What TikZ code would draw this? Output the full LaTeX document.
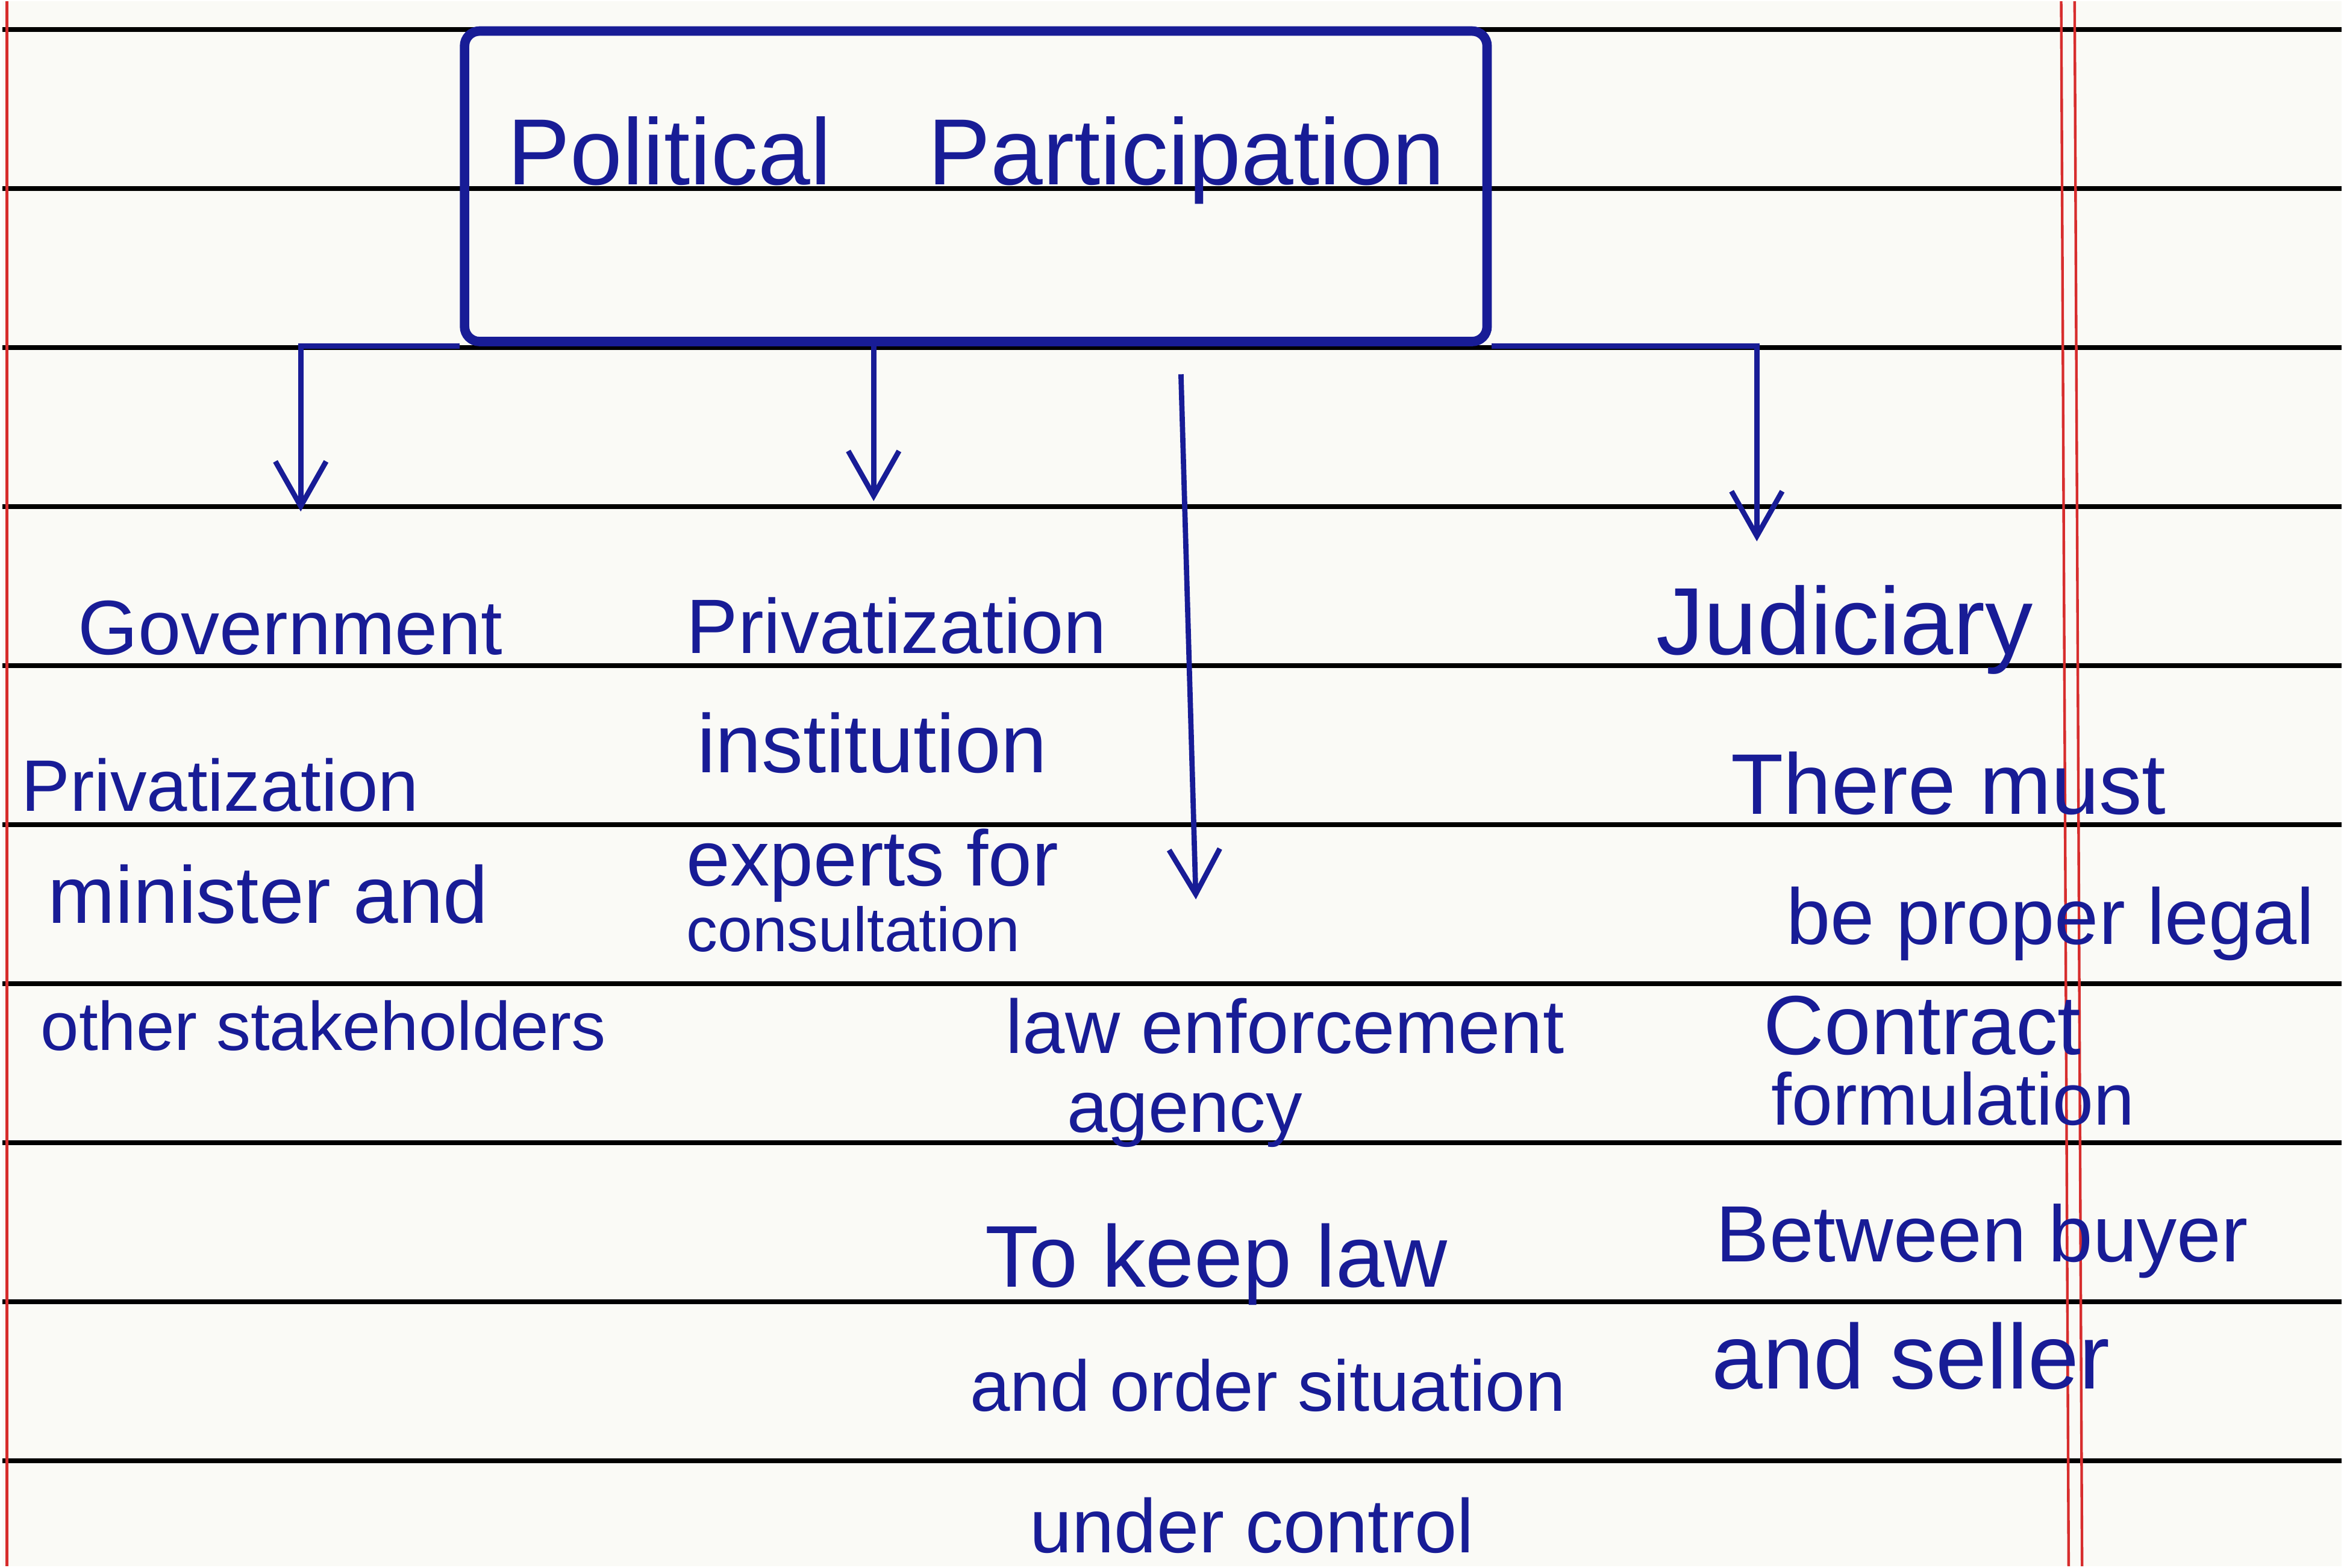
\documentclass[tikz,border=0pt]{standalone}
\usepackage{fontspec}
\setmainfont{Liberation Sans}
\usetikzlibrary{arrows.meta}
\definecolor{ink}{RGB}{24,28,150}
\definecolor{paper}{RGB}{250,250,246}
\definecolor{margin}{RGB}{215,45,45}
\newcommand\inksize[1]{\fontsize{#1pt}{#1pt}\selectfont}
\tikzset{
  rule/.style={black, line width=0.9pt},
  redline/.style={margin, line width=0.5pt},
  hand/.style={text=ink, anchor=base west, inner sep=0pt},
  link/.style={ink, line width=1pt, -{Straight Barb[length=3mm,width=3.4mm]}}
}

\begin{document}
\begin{tikzpicture}[x=0.01cm,y=-0.01cm]
	%%%%% PAGE %%%%%
	\fill[paper] (0,0) rectangle (1568,1049);
	\foreach \k in {0,...,9}
		\draw[rule] (0,19+106.6*\k) -- (1568,19+106.6*\k);
	\draw[redline] (3,0) -- (3,1049);
	\draw[redline] (1380,0) -- (1385,1049);
	\draw[redline] (1389,0) -- (1394,1049);

	%%%%% TITLE %%%%%
	\node[draw=ink, line width=1.8pt, rounded corners=1mm, minimum width=6.85cm, minimum height=2.08cm, inner sep=0pt] (box) at (652.5,124) {};
	\node[hand, font=\inksize{17.9}] (title) at (338,123) {Political\hspace{0.65cm}Participation};

	%%%%% COLUMNS %%%%%
	\node[hand, font=\inksize{14.7}] (gov) at (50,438) {Government};
	\node[hand, font=\inksize{13.9}] (gov1) at (12,543) {Privatization};
	\node[hand, font=\inksize{15.4}] (gov2) at (30,618) {minister and};
	\node[hand, font=\inksize{13.1}] (gov3) at (25,703) {other stakeholders};

	\node[hand, font=\inksize{14.7}] (priv) at (458,437) {Privatization};
	\node[hand, font=\inksize{15.8}] (priv1) at (465,517) {institution};
	\node[hand, font=\inksize{15}] (priv2) at (458,593) {experts for};
	\node[hand, font=\inksize{11.9}] (priv3) at (458,637) {consultation};

	\node[hand, font=\inksize{14.5}] (law) at (672,705) {law enforcement};
	\node[hand, font=\inksize{13.9}] (law1) at (713,758) {agency};
	\node[hand, font=\inksize{16.7}] (law2) at (658,862) {To keep law};
	\node[hand, font=\inksize{13.7}] (law3) at (648,945) {and order situation};
	\node[hand, font=\inksize{14.5}] (law4) at (688,1040) {under control};

	\node[hand, font=\inksize{18.2}] (jud) at (1108,438) {Judiciary};
	\node[hand, font=\inksize{16.4}] (jud1) at (1158,545) {There must};
	\node[hand, font=\inksize{15.1}] (jud2) at (1195,632) {be proper legal};
	\node[hand, font=\inksize{16}] (jud3) at (1180,706) {Contract};
	\node[hand, font=\inksize{14}] (jud4) at (1185,753) {formulation};
	\node[hand, font=\inksize{15.2}] (jud5) at (1148,845) {Between buyer};
	\node[hand, font=\inksize{17.5}] (jud6) at (1145,930) {and seller};

	%%%%% ARROWS %%%%%
	\coordinate (gtip) at (200,342);
	\coordinate (ptip) at (584,335);
	\coordinate (ltop) at (790,250);
	\coordinate (ltip) at (800,602);
	\coordinate (jtip) at (1176,362);

	\draw[link] (box.south west) -| (gtip);
	\draw[link] (box.south -| ptip) -- (ptip);
	\draw[link] (ltop) -- (ltip);
	\draw[link] (box.south east) -| (jtip);
\end{tikzpicture}
\end{document}
